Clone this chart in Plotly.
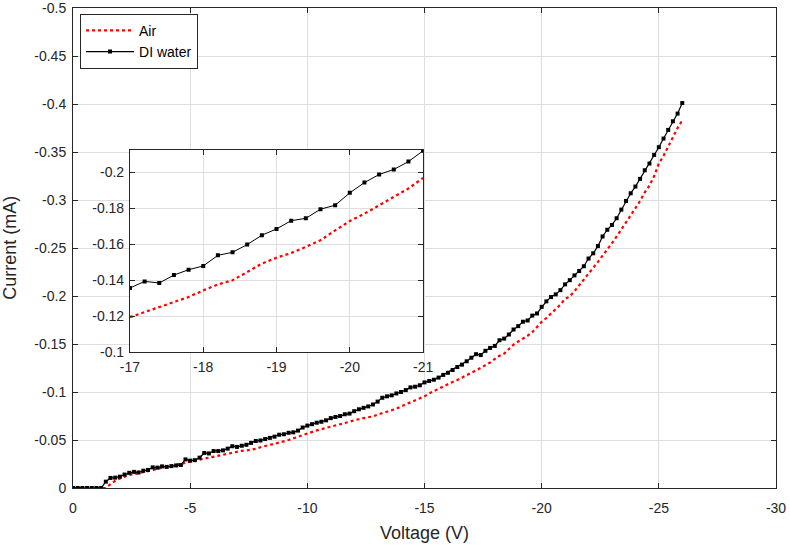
import plotly.graph_objects as go

# Voltage sweep (V), 0 to -26 in 0.2 V steps
voltage = [round(-0.2 * i, 1) for i in range(131)]

# Current magnitudes (mA), sign applied below
air_mag = [
    0, 0, 0, 0, 0, 0, 0, 0.0,
    0.0040, 0.0075, 0.0100, 0.0118, 0.0135, 0.0145, 0.0155, 0.0162,
    0.0170, 0.0185, 0.0200, 0.0210, 0.0218, 0.0226, 0.0238, 0.0250,
    0.0262, 0.0275, 0.0285, 0.0292, 0.0300, 0.0315, 0.0326, 0.0335,
    0.0345, 0.0356, 0.0368, 0.0378, 0.0387, 0.0390, 0.0396, 0.0408,
    0.0425, 0.0440, 0.0450, 0.0460, 0.0472, 0.0485, 0.0500, 0.0517,
    0.0535, 0.0552, 0.0570, 0.0585, 0.0600, 0.0613, 0.0625, 0.0635,
    0.0648, 0.0662, 0.0674, 0.0690, 0.0705, 0.0719, 0.0728, 0.0737,
    0.0745, 0.0765, 0.0780, 0.0790, 0.0805, 0.0825, 0.0850, 0.0870,
    0.0890, 0.0910, 0.0932, 0.0955, 0.0985, 0.1010, 0.1035, 0.1060,
    0.1085, 0.1105, 0.1125, 0.1150, 0.1175, 0.1195, 0.1222, 0.1251,
    0.1280, 0.1307, 0.1344, 0.1377, 0.1400, 0.1446, 0.1493, 0.1526,
    0.1552, 0.1586, 0.1623, 0.1678, 0.1730, 0.1771, 0.1818, 0.1864,
    0.1911, 0.1970, 0.1995, 0.2050, 0.2110, 0.2170, 0.2225, 0.2290,
    0.2355, 0.2420, 0.2480, 0.2550, 0.2620, 0.2690, 0.2760, 0.2840,
    0.2915, 0.2990, 0.3080, 0.3150, 0.3250, 0.3380, 0.3460, 0.3560,
    0.3660, 0.3750, 0.3830,
]

water_mag = [
    0, 0, 0, 0, 0, 0, 0, 0.0066,
    0.0105, 0.0108, 0.0118, 0.0140, 0.0158, 0.0168, 0.0162, 0.0180,
    0.0188, 0.0215, 0.0212, 0.0225, 0.0220, 0.0228, 0.0235, 0.0240,
    0.0298, 0.0285, 0.0290, 0.0316, 0.0365, 0.0360, 0.0385, 0.0385,
    0.0392, 0.0410, 0.0435, 0.0428, 0.0440, 0.0450, 0.0470, 0.0490,
    0.0495, 0.0510, 0.0522, 0.0535, 0.0555, 0.0560, 0.0575, 0.0580,
    0.0598, 0.0630, 0.0650, 0.0665, 0.0680, 0.0690, 0.0705, 0.0728,
    0.0740, 0.0750, 0.0768, 0.0775, 0.0800, 0.0820, 0.0835, 0.0850,
    0.0870, 0.0900, 0.0940, 0.0955, 0.0965, 0.0985, 0.1000, 0.1020,
    0.1048, 0.1055, 0.1070, 0.1100, 0.1115, 0.1128, 0.1150, 0.1178,
    0.1200, 0.1229, 0.1260, 0.1285, 0.1320, 0.1357, 0.1394, 0.1385,
    0.1429, 0.1459, 0.1480, 0.1539, 0.1556, 0.1599, 0.1651, 0.1686,
    0.1732, 0.1745, 0.1796, 0.1818, 0.1887, 0.1944, 0.1989, 0.2017,
    0.2061, 0.2121, 0.2165, 0.2215, 0.2260, 0.2310, 0.2390, 0.2445,
    0.2520, 0.2620, 0.2690, 0.2740, 0.2810, 0.2900, 0.2990, 0.3070,
    0.3140, 0.3220, 0.3310, 0.3380, 0.3470, 0.3550, 0.3640, 0.3730,
    0.3820, 0.3900, 0.4010,
]

air_current = [-v for v in air_mag]
water_current = [-v for v in water_mag]

# Inset window
inset_v_min, inset_v_max = -17.0, -21.0
inset_i_lo, inset_i_hi = -0.1, -0.2125

main_xticks = [0, -5, -10, -15, -20, -25, -30]
main_yticks = [0, -0.05, -0.1, -0.15, -0.2, -0.25, -0.3, -0.35, -0.4, -0.45, -0.5]
main_yticklabels = ["0", "-0.05", "-0.1", "-0.15", "-0.2", "-0.25", "-0.3", "-0.35", "-0.4", "-0.45", "-0.5"]
inset_xticks = [-17, -18, -19, -20, -21]
inset_yticks = [-0.1, -0.12, -0.14, -0.16, -0.18, -0.2]
inset_yticklabels = ["-0.1", "-0.12", "-0.14", "-0.16", "-0.18", "-0.2"]

x_title = "Voltage (V)"
y_title = "Current (mA)"

inset_idx = [i for i, v in enumerate(voltage) if inset_v_max - 1e-9 <= v <= inset_v_min + 1e-9]
inset_v = [voltage[i] for i in inset_idx]

RED = "#ff0000"
BLACK = "#000000"
TXT = "#262626"
GRID = "#dedede"
FONT = "Liberation Sans, Arial, sans-serif"

fig = go.Figure()

fig.add_trace(go.Scatter(
    x=voltage, y=air_current, name="Air", mode="lines",
    line=dict(color=RED, width=2.2, dash="dot"),
    xaxis="x", yaxis="y",
))
fig.add_trace(go.Scatter(
    x=voltage, y=water_current, name="DI water", mode="lines+markers",
    line=dict(color=BLACK, width=1.2),
    marker=dict(symbol="square", size=4, color=BLACK),
    xaxis="x", yaxis="y",
))
fig.add_trace(go.Scatter(
    x=inset_v, y=[air_current[i] for i in inset_idx], mode="lines",
    line=dict(color=RED, width=2.2, dash="dot"), showlegend=False,
    xaxis="x2", yaxis="y2",
))
fig.add_trace(go.Scatter(
    x=inset_v, y=[water_current[i] for i in inset_idx], mode="lines+markers",
    line=dict(color=BLACK, width=1),
    marker=dict(symbol="square", size=4, color=BLACK), showlegend=False,
    xaxis="x2", yaxis="y2",
))

axis_common = dict(
    showgrid=True, gridcolor=GRID, gridwidth=1,
    showline=True, linecolor=TXT, linewidth=1, mirror="allticks",
    ticks="inside", ticklen=5, tickcolor=TXT, automargin=False,
    ticklabeloverflow="allow",
    zeroline=False, tickfont=dict(family=FONT, size=14, color=TXT),
)

fig.update_layout(
    width=790, height=546,
    margin=dict(l=73, r=14, t=8, b=58),
    paper_bgcolor="white", plot_bgcolor="white",
    font=dict(family=FONT, color=TXT),
    showlegend=True,
    legend=dict(
        x=0.01, y=0.988, xanchor="left", yanchor="top",
        bgcolor="white", bordercolor=TXT, borderwidth=1,
        font=dict(family=FONT, size=14, color=BLACK),
        tracegroupgap=0, itemwidth=48,
    ),
    xaxis=dict(
        **axis_common, range=[0, -30], tickvals=main_xticks,
        ticktext=[str(t) for t in main_xticks], ticklabelstandoff=7,
        domain=[0, 1],
    ),
    yaxis=dict(
        **axis_common, range=[0, -0.5], tickvals=main_yticks, ticktext=main_yticklabels,
        ticklabelstandoff=3,
        domain=[0, 1],
    ),
    xaxis2=dict(
        **axis_common, range=[inset_v_min, inset_v_max], tickvals=inset_xticks,
        ticktext=[str(t) for t in inset_xticks], ticklabelstandoff=2,
        domain=[0.081, 0.498], anchor="y2",
    ),
    yaxis2=dict(
        **axis_common, range=[inset_i_lo, inset_i_hi], tickvals=inset_yticks,
        ticktext=inset_yticklabels, ticklabelstandoff=2,
        domain=[0.283, 0.704], anchor="x2",
    ),
    annotations=[
        dict(text=x_title, xref="paper", yref="paper", x=0.5, y=-0.094,
             xanchor="center", yanchor="middle", showarrow=False,
             font=dict(family=FONT, size=18, color=TXT)),
        dict(text=y_title, xref="paper", yref="paper", x=-0.09, y=0.5,
             xanchor="center", yanchor="middle", showarrow=False, textangle=-90,
             font=dict(family=FONT, size=18, color=TXT)),
    ],
)

fig.write_html("out.html", config={"displayModeBar": False},
               post_script="document.body.style.margin='0';")
